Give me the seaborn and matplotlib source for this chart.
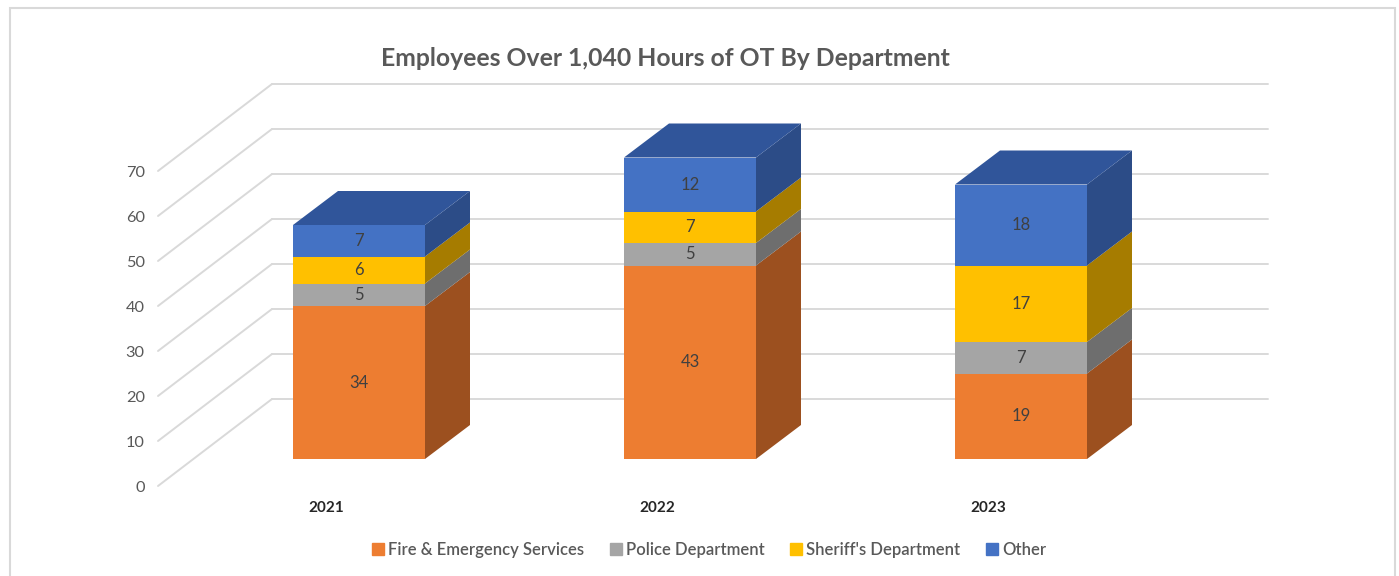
import numpy as np
import pandas as pd
import matplotlib
matplotlib.use("Agg")
import matplotlib.pyplot as plt
from matplotlib.patches import Polygon, Rectangle
from matplotlib.lines import Line2D
import seaborn as sns

# ---- data ----
years = ["2021", "2022", "2023"]
series_names = ["Fire & Emergency Services", "Police Department", "Sheriff's Department", "Other"]
fire = [34, 43, 19]
police = [5, 5, 7]
sheriff = [6, 7, 17]
other = [7, 12, 18]
y_ticks = [0, 10, 20, 30, 40, 50, 60, 70]
title = "Employees Over 1,040 Hours of OT By Department"

front_colors = ["#ED7D31", "#A5A5A5", "#FFC000", "#4472C4"]
side_colors = ["#9C501F", "#6E6E6E", "#A67C00", "#2C4C87"]
top_color = "#30559A"

sns.set_theme(style="white")
plt.rcParams["font.family"] = ["Lato", "DejaVu Sans"]

W, H = 1399, 576
fig = plt.figure(figsize=(W / 100, H / 100), dpi=100)
ax = fig.add_axes([0, 0, 1, 1])

# geometry (category units in x, value units in y)
px_x = 331.0   # pixels per category
px_y = 4.5     # pixels per value unit
bar_w = 132 / px_x
dx, dy = 45 / px_x, 34 / px_y          # bar depth
wall_dy = 60 / px_y                    # bar-front plane -> back wall
wall_x0, wall_x1 = (272 - 359) / px_x, (1268 - 359) / px_x
lab_dx, lab_dy = (158 - 359) / px_x, -27 / px_y   # front label plane

series = [fire, police, sheriff, other]
cum = np.cumsum(np.array(series), axis=0)
bottoms = cum - np.array(series)

# back wall gridlines and diagonal side lines
grid_c = "#D9D9D9"
for v in y_ticks:
    ax.plot([wall_x0, wall_x1], [v + wall_dy, v + wall_dy], color=grid_c, lw=1.4, zorder=0)
    ax.plot([lab_dx, wall_x0], [v + lab_dy, v + wall_dy], color=grid_c, lw=1.4, zorder=0)
    ax.text(lab_dx - 0.04, v + lab_dy - 0.4, str(v), ha="right", va="center",
            fontsize=11.8, color="#595959")

# front faces via seaborn (stacked: draw cumulative totals from top down)
df = pd.DataFrame({"year": years})
for k in range(len(series) - 1, -1, -1):
    df["cum"] = cum[k]
    sns.barplot(data=df, x="year", y="cum", color=front_colors[k], saturation=1,
                width=bar_w, ax=ax, linewidth=0, zorder=2)

# side and top faces
for i in range(len(years)):
    xr = i + bar_w / 2
    xl = i - bar_w / 2
    for k in range(len(series)):
        b, t = bottoms[k][i], cum[k][i]
        ax.add_patch(Polygon([(xr, b), (xr, t), (xr + dx, t + dy), (xr + dx, b + dy)],
                             closed=True, facecolor=side_colors[k], edgecolor="none", zorder=2))
        ax.text(i, b + series[k][i] / 2, str(series[k][i]), ha="center", va="center",
                fontsize=12, color="#404040", zorder=3)
    t = cum[-1][i]
    ax.add_patch(Polygon([(xl, t), (xr, t), (xr + dx, t + dy), (xl + dx, t + dy)],
                         closed=True, facecolor=top_color, edgecolor="none", zorder=2))
    ax.text(i - 0.1, -10.9, years[i], ha="center", va="center", fontsize=11,
            fontweight="bold", color="#262626")

ax.set_xlim(-359 / px_x, (W - 359) / px_x)
ax.set_ylim(-(H - 459) / px_y, 459 / px_y)
ax.axis("off")

fig.text(665 / W, 1 - 58 / H, title, ha="center", va="center", fontsize=17.8,
         fontweight="bold", color="#595959")

handles = [Line2D([], [], marker="s", linestyle="none", markersize=8,
                  markerfacecolor=c, markeredgecolor=c) for c in front_colors]
fig.legend(handles, series_names, loc="center", bbox_to_anchor=(707 / W, 1 - 550 / H),
           ncol=4, frameon=False, prop={"size": 12, "weight": "semibold"},
           handletextpad=0.0, handlelength=1.2, columnspacing=1.3,
           labelcolor="#595959")

fig.patches.append(Rectangle((10 / W, -0.02), (1395 - 10) / W, 1 - 8 / H + 0.02,
                             transform=fig.transFigure, fill=False, edgecolor="#D9D9D9",
                             linewidth=1.5))

fig.savefig("out.png", dpi=100, facecolor="white")
